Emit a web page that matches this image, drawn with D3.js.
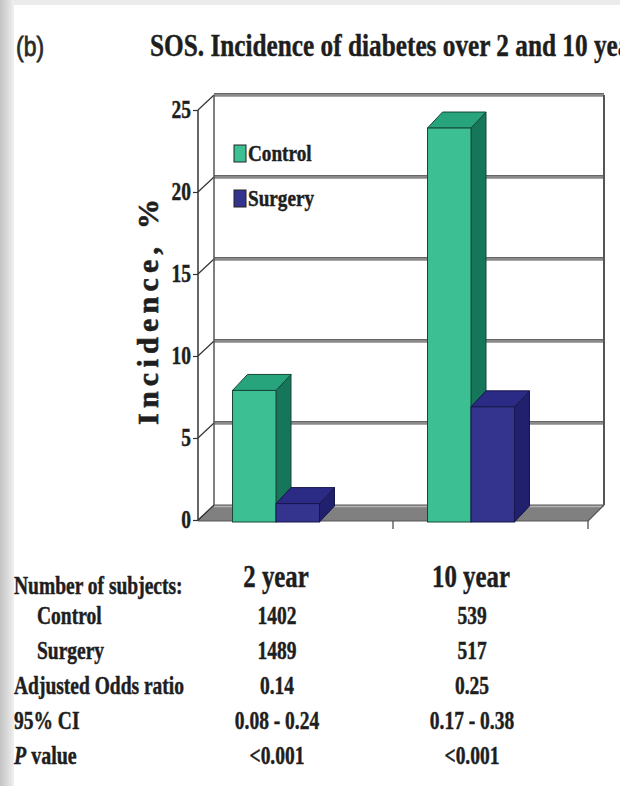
<!DOCTYPE html>
<html>
<head>
<meta charset="utf-8">
<script src="https://cdn.jsdelivr.net/npm/d3@7"></script>
<style>
  html, body { margin: 0; padding: 0; background: #fff; }
  svg { display: block; }
</style>
</head>
<body>
<svg id="chart" width="620" height="786"></svg>
<script>
// ---- data ----
const categories = ["2 year", "10 year"];
const seriesNames = ["Control", "Surgery"];
const controlValues = [7.9, 23.9];
const surgeryValues = [1.0, 6.9];
const yTicks = [0, 5, 10, 15, 20, 25];

const tableLabels = ["Number of subjects:", "Control", "Surgery", "Adjusted Odds ratio", "95% CI", "P value"];
const tableIndent = [false, true, true, false, false, false];
const col2Year = ["", "1402", "1489", "0.14", "0.08 - 0.24", "<0.001"];
const col10Year = ["", "539", "517", "0.25", "0.17 - 0.38", "<0.001"];

const titleText = "SOS. Incidence of diabetes over 2 and 10 years";
const panelLabel = "(b)";
const yTitle = "Incidence, %";

// ---- styling ----
const faceColors = {
  Control: { front: "#3cbf93", side: "#15765a", top: "#27a47b", stroke: "#17473a" },
  Surgery: { front: "#34348f", side: "#20206f", top: "#2b2b85", stroke: "#17174a" }
};
const serif = "'Liberation Serif', 'Times New Roman', serif";
const ink = "#1e1e1e";

const svg = d3.select("#chart");

// page edge shading
const grad = svg.append("defs").append("linearGradient").attr("id", "edge")
  .attr("x1", 0).attr("x2", 1).attr("y1", 0).attr("y2", 0);
grad.append("stop").attr("offset", 0).attr("stop-color", "#c4c4c4");
grad.append("stop").attr("offset", 0.45).attr("stop-color", "#d6d6d6");
grad.append("stop").attr("offset", 1).attr("stop-color", "#f0f0f0");
svg.append("rect").attr("x", 0).attr("y", 0).attr("width", 620).attr("height", 5).attr("fill", "#ebebeb");
svg.append("rect").attr("x", 0).attr("y", 0).attr("width", 14).attr("height", 786).attr("fill", "url(#edge)");

// condensed heavy serif text helper
function label(g, x, y, str, opts) {
  const o = Object.assign({ size: 24, anchor: "start", sx: 0.8, weight: "bold", style: "normal", family: serif, fill: ink, halo: 0.45 }, opts || {});
  return g.append("text")
    .attr("transform", `translate(${x},${y}) scale(${o.sx},1)`)
    .attr("text-anchor", o.anchor)
    .attr("font-family", o.family)
    .attr("font-size", o.size)
    .attr("font-weight", o.weight)
    .attr("font-style", o.style)
    .attr("fill", o.fill)
    .attr("stroke", o.fill)
    .attr("stroke-width", o.halo)
    .text(str);
}

// ---- title ----
label(svg, 16, 56, panelLabel, { size: 28, family: "'Liberation Sans', Arial, sans-serif", sx: 0.82, weight: "normal", fill: "#2a2a2a", halo: 0.8 });
label(svg, 150, 56, titleText, { size: 32, sx: 0.79 });

// ---- scales ----
const x0 = 198, x1 = 588;
const DX = 16, DY = -15;         // wall depth offset
const BDX = 15, BDY = -16;       // bar depth offset
const x = d3.scaleBand().domain(categories).range([x0, x1]);
const y = d3.scaleLinear().domain([0, 25]).range([520, 110]);
const groupStart = 0.177, groupSpan = 0.446;
const xs = d3.scaleBand().domain(seriesNames)
  .range([0, x.bandwidth() * groupSpan]);

const plot = svg.append("g");

// floor
const yf = y(0);
plot.append("path")
  .attr("d", `M${x0},${yf + 1} L${x1},${yf + 1} L${x1 + DX},${yf + DY} L${x0 + DX},${yf + DY} Z`)
  .attr("fill", "#808080").attr("stroke", "#555").attr("stroke-width", 1);
plot.append("line")
  .attr("x1", x0 + DX).attr("x2", x1 + DX).attr("y1", yf + DY + 1.5).attr("y2", yf + DY + 1.5)
  .attr("stroke", "#b5b5b5").attr("stroke-width", 1.5);

// back wall gridlines and left wall diagonals
yTicks.filter(t => t > 0).forEach(t => {
  const yy = y(t);
  plot.append("line")
    .attr("x1", x0 + DX).attr("x2", x1 + DX).attr("y1", yy + DY).attr("y2", yy + DY)
    .attr("stroke", "#8a8a8a").attr("stroke-width", 3.5);
  plot.append("line")
    .attr("x1", x0 + DX).attr("x2", x1 + DX).attr("y1", yy + DY - 1.5).attr("y2", yy + DY - 1.5)
    .attr("stroke", "#555").attr("stroke-width", 0.8);
});
yTicks.forEach(t => {
  const yy = y(t);
  plot.append("line")
    .attr("x1", x0).attr("y1", yy).attr("x2", x0 + DX).attr("y2", yy + DY)
    .attr("stroke", "#333").attr("stroke-width", 1.2);
});
// wall verticals
plot.append("line").attr("x1", x0 + DX).attr("x2", x0 + DX).attr("y1", y(25) + DY).attr("y2", y(0) + DY)
  .attr("stroke", "#555").attr("stroke-width", 1.5);
plot.append("line").attr("x1", x1 + DX).attr("x2", x1 + DX).attr("y1", y(25) + DY).attr("y2", y(0) + DY)
  .attr("stroke", "#555").attr("stroke-width", 2);
plot.append("line").attr("x1", x1).attr("x2", x1 + DX).attr("y1", yf + 1).attr("y2", yf + DY)
  .attr("stroke", "#555").attr("stroke-width", 1.2);

// bars
const barData = [];
categories.forEach((c, i) => {
  barData.push({ cat: c, series: "Control", value: controlValues[i] });
  barData.push({ cat: c, series: "Surgery", value: surgeryValues[i] });
});
const bars = plot.selectAll("g.bar").data(barData).join("g").attr("class", "bar");
bars.each(function (d) {
  const g = d3.select(this);
  const col = faceColors[d.series];
  const left = x(d.cat) + x.bandwidth() * groupStart + xs(d.series);
  const right = left + xs.bandwidth();
  const top = y(d.value), bottom = y(0) + 2;
  // side face
  g.append("path")
    .attr("d", `M${right},${top} L${right + BDX},${top + BDY} L${right + BDX},${bottom + BDY} L${right},${bottom} Z`)
    .attr("fill", col.side).attr("stroke", col.stroke).attr("stroke-width", 1);
  // top face
  g.append("path")
    .attr("d", `M${left},${top} L${left + BDX},${top + BDY} L${right + BDX},${top + BDY} L${right},${top} Z`)
    .attr("fill", col.top).attr("stroke", col.stroke).attr("stroke-width", 1);
  // front face
  g.append("rect")
    .attr("x", left).attr("y", top).attr("width", right - left).attr("height", bottom - top)
    .attr("fill", col.front).attr("stroke", col.stroke).attr("stroke-width", 1);
});

// front axis
plot.append("line").attr("x1", x0).attr("x2", x0).attr("y1", y(25)).attr("y2", y(0))
  .attr("stroke", "#333").attr("stroke-width", 1.5);
const yAxis = d3.axisLeft(y).tickValues(yTicks).tickSize(5).tickFormat(d3.format("d"));
const ya = svg.append("g").attr("transform", `translate(${x0},0)`).call(yAxis);
ya.select(".domain").remove();
ya.selectAll(".tick line").attr("stroke", "#333").attr("stroke-width", 1.2);
ya.selectAll(".tick text").remove();
yTicks.forEach(t => label(svg, 191, y(t) + 8, String(t), { size: 25, anchor: "end", sx: 0.78 }));

// category ticks under floor
[x1, x(categories[1])].forEach(px => {
  plot.append("line").attr("x1", px).attr("x2", px).attr("y1", yf + 1).attr("y2", yf + 9)
    .attr("stroke", "#444").attr("stroke-width", 1.2);
});

// y title
svg.append("text")
  .attr("transform", `translate(158,${(y(0) + y(25)) / 2 - 3}) rotate(-90)`)
  .attr("text-anchor", "middle")
  .attr("font-family", serif).attr("font-size", 30).attr("font-weight", "bold").attr("fill", ink)
  .attr("stroke", ink).attr("stroke-width", 0.6)
  .attr("textLength", 226).attr("lengthAdjust", "spacing")
  .text(yTitle);

// legend
const legend = svg.append("g");
seriesNames.forEach((s, i) => {
  const ly = 145 + i * 45;
  legend.append("rect").attr("x", 234).attr("y", ly).attr("width", 12).attr("height", 17)
    .attr("fill", faceColors[s].front).attr("stroke", "#222").attr("stroke-width", 1);
  label(legend, 248, ly + 16, s, { size: 24, sx: 0.8 });
});

// category labels
categories.forEach(c => {
  label(svg, x(c) + x.bandwidth() * 0.4, 587, c, { size: 31, anchor: "middle", sx: 0.8 });
});

// table
const rowY = [594, 624, 659, 694, 729, 764];
tableLabels.forEach((t, i) => {
  const tx = tableIndent[i] ? 37 : 14;
  if (t === "P value") {
    const g = svg.append("text")
      .attr("transform", `translate(${tx},${rowY[i]}) scale(0.8,1)`)
      .attr("font-family", serif).attr("font-size", 25).attr("font-weight", "bold")
      .attr("fill", ink).attr("stroke", ink).attr("stroke-width", 0.45);
    g.append("tspan").attr("font-style", "italic").text("P");
    g.append("tspan").text(" value");
  } else {
    label(svg, tx, rowY[i], t, { size: 25, sx: 0.78 });
  }
  label(svg, 277, rowY[i], col2Year[i], { size: 25, anchor: "middle", sx: 0.78 });
  label(svg, 472, rowY[i], col10Year[i], { size: 25, anchor: "middle", sx: 0.78 });
});
</script>
</body>
</html>
